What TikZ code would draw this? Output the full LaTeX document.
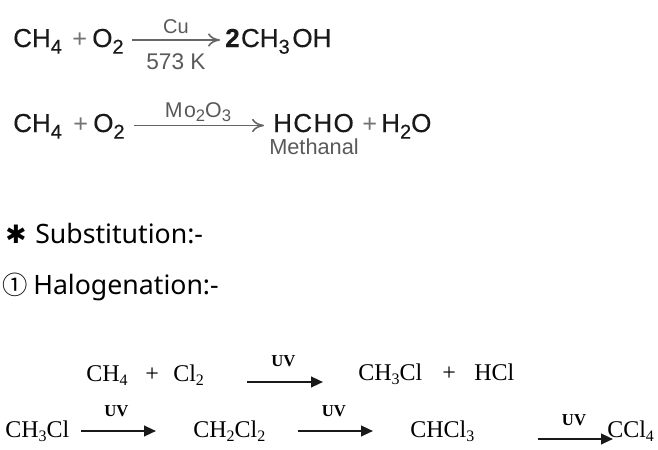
\documentclass[tikz,border=0pt]{standalone}
\usepackage{fontspec}
\setmainfont{Liberation Sans}
\newfontfamily\chemfont[FakeBold=0.4]{Liberation Sans}
\newfontfamily\serifrm{Liberation Serif}
\newfontfamily\bodyfont{Noto Sans}
\newfontfamily\symfont{DejaVu Sans}
\newfontfamily\cjkfont{Noto Sans CJK KR}
\usetikzlibrary{arrows.meta}
\newcommand{\sbs}[1]{\raisebox{-5pt}{\fontsize{15}{15}\selectfont #1}}
\newcommand{\sbt}[1]{\raisebox{-3pt}{\fontsize{12}{12}\selectfont #1}}
\newcommand{\sbl}[1]{\raisebox{-3pt}{\fontsize{12.5}{13}\selectfont #1}}
\tikzset{
chem/.style={inner sep=0pt,anchor=base west,font=\chemfont\fontsize{19.5}{20}\selectfont,text=black!90},
plus/.style={inner sep=0pt,anchor=base west,font=\fontsize{19}{20}\selectfont,text=black!55},
cond/.style={inner sep=0pt,anchor=base,font=\fontsize{15}{16}\selectfont,text=black!65},
body/.style={inner sep=0pt,anchor=base west,font=\bodyfont\fontsize{20}{22}\selectfont},
uvchem/.style={inner sep=0pt,anchor=base west,font=\serifrm\fontsize{18}{18}\selectfont},
uvlabel/.style={inner sep=0pt,anchor=base,font=\serifrm\bfseries\fontsize{12.5}{13}\selectfont},
thin rxn/.style={-{To[length=9pt,width=10pt]},line width=1.2pt,black!60},
uv rxn/.style={-{Stealth[length=9pt,width=8pt,inset=0pt]},line width=1.6pt,black!90}
}
\begin{document}
\begin{tikzpicture}[x=0.75pt,y=-0.75pt]
\useasboundingbox (0,0) rectangle (658,450);
% first oxidation
\node (ch4a) at (13,47) [chem] {CH\sbs{4}};
\node (plusa) at (72,47) [plus] {+};
\node (o2a) at (92,47) [chem] {O\sbs{2}};
\coordinate (ra) at (132,40);
\coordinate (rb) at (220,40);
\node (cu) at (176,33) [cond] {Cu};
\node (temp) at (176,69) [cond,font=\fontsize{17}{18}\selectfont] {573 K};
\node (meoh) at (225,47) [chem] {\textbf{2}\kern1pt CH\sbs{3}\kern2pt OH};
% second oxidation
\node (ch4b) at (13,132) [chem] {CH\sbs{4}};
\node (plusb) at (73,132) [plus] {+};
\node (o2b) at (93,132) [chem] {O\sbs{2}};
\coordinate (rc) at (134,125.5);
\coordinate (rd) at (264,125.5);
\node (cat) at (198,117) [cond,font=\fontsize{16}{17}\selectfont] {M\kern1pt o\sbl{2}O\sbl{3}};
\node (hcho) at (273,132) [chem] {H\kern1pt C\kern1pt H\kern1pt O};
\node (plusc) at (362,132) [plus] {+};
\node (h2o) at (381,132) [chem] {H\sbs{2}O};
\node (name) at (314,154) [cond,font=\fontsize{16.3}{17}\selectfont] {Methanal};
% headings
\node (star) at (5,243) [body] {\symfont\fontsize{19}{20}\selectfont ✱};
\node (subst) at (35,243) [body] {Substitution:-};
\node (circ) at (2,294) [body] {\cjkfont\fontsize{19}{20}\selectfont ①};
\node (halo) at (33,294) [body] {Halogenation:-};
% chlorination
\node (ch4c) at (86,381) [uvchem] {CH\sbt{4}};
\node (plusd) at (145,381) [uvchem] {+};
\node (cl2) at (173,381) [uvchem] {Cl\sbt{2}};
\coordinate (re) at (247,382);
\coordinate (rf) at (323,382);
\node (uva) at (283.5,366) [uvlabel] {UV};
\node (mecl) at (358,380) [uvchem] {CH\sbt{3}Cl};
\node (pluse) at (442,380) [uvchem] {+};
\node (hcl) at (474,380) [uvchem] {HCl};
\node (meclb) at (5,437) [uvchem] {CH\sbt{3}Cl};
\coordinate (rg) at (81,431);
\coordinate (rh) at (156,431);
\node (uvb) at (116.5,416) [uvlabel] {UV};
\node (dcm) at (193,437) [uvchem] {CH\sbt{2}Cl\sbt{2}};
\coordinate (ri) at (298,431);
\coordinate (rj) at (373,431);
\node (uvc) at (334,416) [uvlabel] {UV};
\node (chcl) at (410,437) [uvchem] {CHCl\sbt{3}};
\coordinate (rk) at (538,439);
\coordinate (rl) at (613,439);
\node (uvd) at (574,425) [uvlabel] {UV};
\node (ccl) at (607,437) [uvchem] {CCl\sbt{4}};

\draw[thin rxn] (ra) -- (rb);
\draw[thin rxn] (rc) -- (rd);
\draw[uv rxn] (re) -- (rf);
\draw[uv rxn] (rg) -- (rh);
\draw[uv rxn] (ri) -- (rj);
\draw[uv rxn] (rk) -- (rl);
\end{tikzpicture}
\end{document}
